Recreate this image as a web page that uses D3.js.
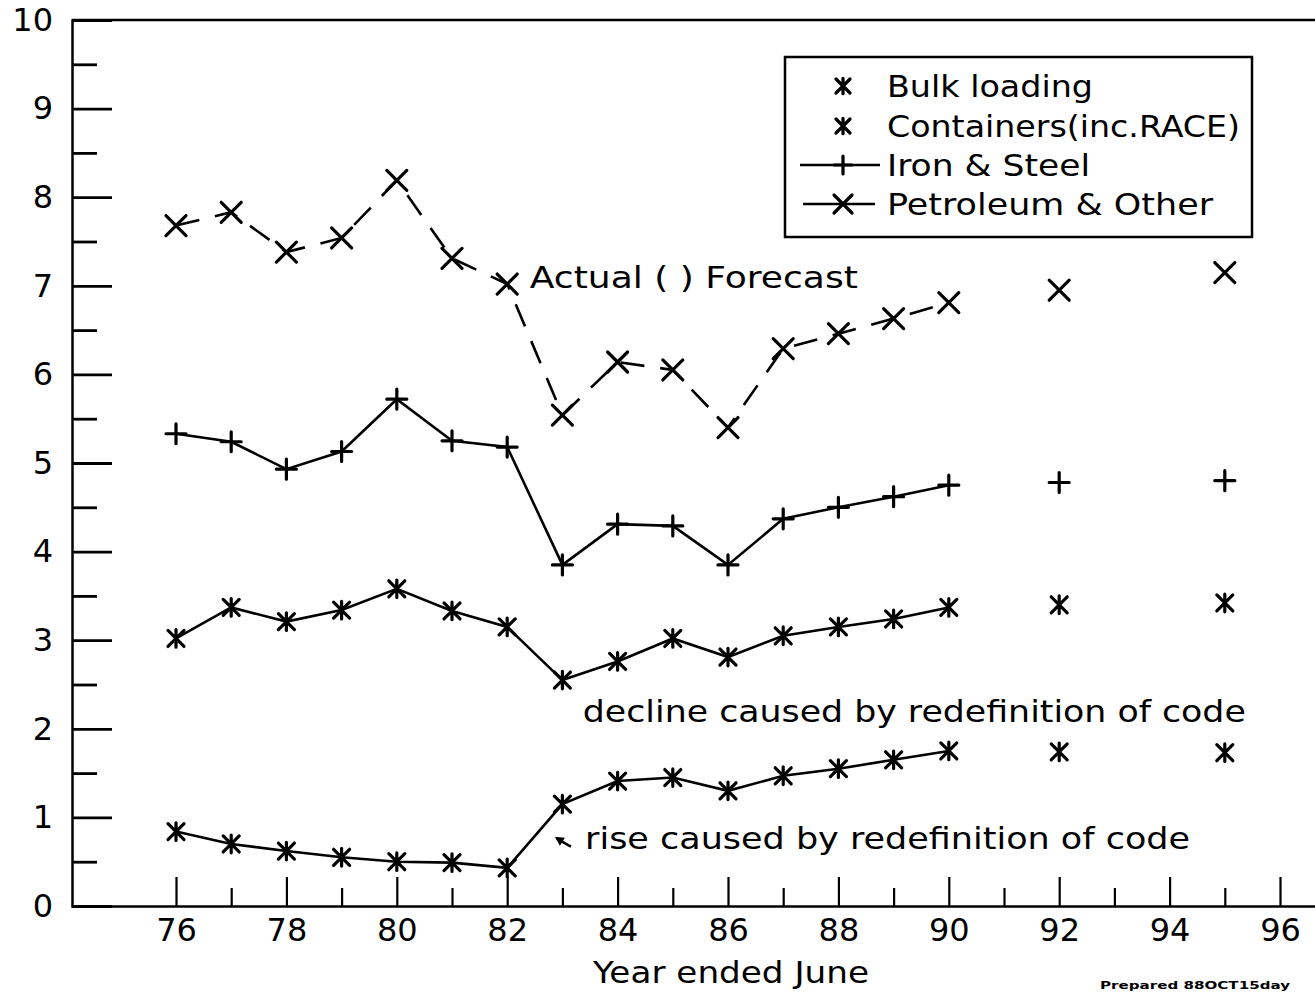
<!DOCTYPE html>
<html>
<head>
<meta charset="utf-8">
<script src="https://cdn.jsdelivr.net/npm/d3@7"></script>
<style>
html,body{margin:0;padding:0;background:#fff;}
svg{display:block;}
text{font-family:"DejaVu Sans",sans-serif;fill:#000;}
</style>
</head>
<body>
<svg id="chart" width="1315" height="992"></svg>
<script>
// ---- data ----
const years = [76,77,78,79,80,81,82,83,84,85,86,87,88,89,90,92,95];
const actualCount = 15; // 76..90 are actual, 92 & 95 forecast
const petroleum = [7.68,7.83,7.38,7.54,8.19,7.31,7.02,5.54,6.14,6.05,5.40,6.29,6.46,6.63,6.81,6.95,7.15];
const ironSteel = [5.33,5.24,4.93,5.13,5.72,5.25,5.18,3.85,4.31,4.29,3.85,4.37,4.50,4.62,4.75,4.78,4.80];
const containers = [3.02,3.37,3.21,3.34,3.58,3.33,3.15,2.55,2.76,3.02,2.81,3.05,3.15,3.24,3.37,3.40,3.42];
const bulk = [0.84,0.70,0.62,0.55,0.50,0.49,0.43,1.15,1.41,1.45,1.30,1.47,1.55,1.65,1.75,1.74,1.73];
const yMajorTicks = [0,1,2,3,4,5,6,7,8,9,10];
const yMinorTicks = [0.5,1.5,2.5,3.5,4.5,5.5,6.5,7.5,8.5,9.5];
const xMajorTicks = [76,78,80,82,84,86,88,90,92,94,96];
const xMinorTicks = [77,79,81,83,85,87,89,91,93,95];
const legendLabels = ["Bulk loading","Containers(inc.RACE)","Iron & Steel","Petroleum & Other"];
const xTitle = "Year ended June";
const annotations = [
  {text:"Actual ( ) Forecast", x:82.41, y:6.98, len:328},
  {text:"decline caused by redefinition of code", x:83.37, y:2.08, len:663},
  {text:"rise caused by redefinition of code", x:83.41, y:0.64, len:605}
];

// ---- setup ----
const svg = d3.select("#chart");
const x = d3.scaleLinear().domain([76,96]).range([176,1280]);
const y = d3.scaleLinear().domain([0,10]).range([906,20]);
const axisX0 = 72;
const FS = 30;
const TFS = 32;
const SW = 2.6;

// top frame line extends to right edge
svg.append("line").attr("x1",axisX0).attr("x2",1315).attr("y1",y(10)).attr("y2",y(10))
  .attr("stroke","#000").attr("stroke-width",2.5);

// Y axis
const gy = svg.append("g").attr("transform",`translate(${axisX0},0)`);
gy.call(d3.axisLeft(y).tickValues(yMajorTicks).tickSize(-40).tickPadding(19).tickFormat(d3.format("d")));
gy.selectAll(".tick line").attr("stroke","#000").attr("stroke-width",2.8);
gy.selectAll(".tick text").attr("font-size",TFS).attr("font-family","DejaVu Sans").attr("fill","#000");
gy.select(".domain").attr("stroke","#000").attr("stroke-width",2.5);
const gy2 = svg.append("g").attr("transform",`translate(${axisX0},0)`);
gy2.call(d3.axisLeft(y).tickValues(yMinorTicks).tickSize(-25).tickFormat(""));
gy2.selectAll(".tick line").attr("stroke","#000").attr("stroke-width",2.8);
gy2.select(".domain").remove();

// X axis
const xAxisScale = d3.scaleLinear().domain([x.invert(axisX0), x.invert(1315)]).range([axisX0,1315]);
const gx = svg.append("g").attr("transform",`translate(0,${y(0)})`);
gx.call(d3.axisBottom(xAxisScale).tickValues(xMajorTicks).tickSize(-29).tickPadding(12).tickFormat(d3.format("d")).tickSizeOuter(0));
gx.selectAll(".tick line").attr("stroke","#000").attr("stroke-width",2.2);
gx.selectAll(".tick text").attr("font-size",TFS).attr("font-family","DejaVu Sans").attr("fill","#000");
gx.select(".domain").attr("stroke","#000").attr("stroke-width",2.5);
const gx2 = svg.append("g").attr("transform",`translate(0,${y(0)})`);
gx2.call(d3.axisBottom(xAxisScale).tickValues(xMinorTicks).tickSize(-18).tickFormat("").tickSizeOuter(0));
gx2.selectAll(".tick line").attr("stroke","#000").attr("stroke-width",2.2);
gx2.select(".domain").remove();

svg.append("text").attr("x",731).attr("y",983).attr("text-anchor","middle")
  .attr("font-size",FS).attr("textLength",276).attr("lengthAdjust","spacingAndGlyphs").text(xTitle);

// markers
function drawMarker(g, type, cx, cy, s){
  const p = d3.path();
  if(type==="x"||type==="star"){
    p.moveTo(cx-s,cy-s);p.lineTo(cx+s,cy+s);
    p.moveTo(cx-s,cy+s);p.lineTo(cx+s,cy-s);
  }
  if(type==="plus"){
    p.moveTo(cx-s,cy);p.lineTo(cx+s,cy);
    p.moveTo(cx,cy-s);p.lineTo(cx,cy+s);
  }
  if(type==="star"){
    p.moveTo(cx,cy-s*1.1);p.lineTo(cx,cy+s*1.1);
  }
  g.append("path").attr("d",p.toString()).attr("stroke","#000").attr("stroke-width",3.2).attr("fill","none").attr("stroke-linecap","round");
}

const series = [
  {name:legendLabels[0], values:bulk, marker:"star", size:8, dash:null},
  {name:legendLabels[1], values:containers, marker:"star", size:8, dash:null},
  {name:legendLabels[2], values:ironSteel, marker:"plus", size:10, dash:null},
  {name:legendLabels[3], values:petroleum, marker:"x", size:10, dash:"24,16"}
];

const line = d3.line().x(d=>x(d[0])).y(d=>y(d[1]));
series.forEach(s=>{
  const pts = years.map((yr,i)=>[yr,s.values[i]]);
  const g = svg.append("g");
  g.append("path").attr("d",line(pts.slice(0,actualCount))).attr("fill","none")
    .attr("stroke","#000").attr("stroke-width",SW).attr("stroke-dasharray",s.dash);
  pts.forEach(p=>drawMarker(g,s.marker,x(p[0]),y(p[1]),s.size));
});

// annotations
annotations.forEach(a=>{
  svg.append("text").attr("x",x(a.x)).attr("y",y(a.y)).attr("font-size",FS)
    .attr("textLength",a.len).attr("lengthAdjust","spacingAndGlyphs").text(a.text);
});
// small arrow near "rise" note
const ax = x(82.9), ay = y(0.76);
svg.append("line").attr("x1",ax+14).attr("y1",ay+8).attr("x2",ax).attr("y2",ay)
  .attr("stroke","#000").attr("stroke-width",2.5);
svg.append("path").attr("d",`M${ax-2},${ay-2} L${ax+8},${ay-1} L${ax+3},${ay+7} Z`).attr("fill","#000");

// legend
const lg = svg.append("g");
lg.append("rect").attr("x",785).attr("y",57).attr("width",467).attr("height",180)
  .attr("fill","#fff").attr("stroke","#000").attr("stroke-width",2.5);
const legRowY = [86,126,165,204];
const legLen = [206,353,203,326];
series.forEach((s,i)=>{
  const cy = legRowY[i];
  if(i>=2){
    lg.append("line").attr("x1",i===2?800:803).attr("x2",i===2?880:875).attr("y1",cy).attr("y2",cy)
      .attr("stroke","#000").attr("stroke-width",SW);
  }
  drawMarker(lg, s.marker, 843, cy, s.marker==="star"?7:9);
  lg.append("text").attr("x",887).attr("y",cy+11).attr("font-size",FS)
    .attr("textLength",legLen[i]).attr("lengthAdjust","spacingAndGlyphs").text(s.name);
});

// footer stamp
svg.append("text").attr("x",1100).attr("y",989).attr("font-size",10).attr("font-weight","bold")
  .attr("textLength",190).attr("lengthAdjust","spacingAndGlyphs")
  .text("Prepared 88OCT15day");
</script>
</body>
</html>
